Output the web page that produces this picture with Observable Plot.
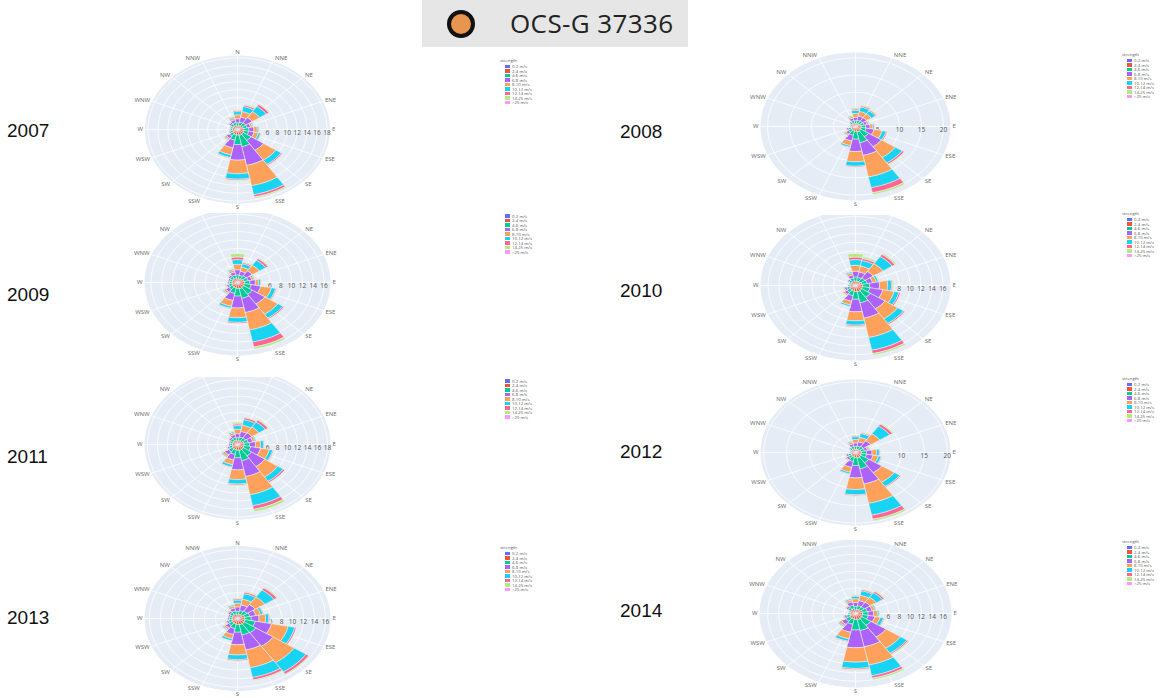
<!DOCTYPE html>
<html><head><meta charset="utf-8">
<script src="https://cdn.jsdelivr.net/npm/d3@7"></script>
<script src="https://cdn.jsdelivr.net/npm/@observablehq/plot@0.6"></script>
<style>
html,body{margin:0;padding:0;background:#fff;}
body{width:1172px;height:698px;position:relative;overflow:hidden;font-family:"Open Sans",sans-serif;}
.cell{position:absolute;overflow:hidden;}
.cell svg{position:absolute;left:0;top:0;overflow:hidden;background:transparent;}
.legend{position:absolute;font-family:"Open Sans",sans-serif;font-size:4.3px;color:#555;line-height:4.5px;white-space:nowrap;}
.legend .ttl{margin-bottom:2px;}
.legend .row{position:relative;height:4.5px;}
.legend .sw{position:absolute;top:0.5px;width:4.5px;height:3.4px;}
.legend .lb{position:absolute;}
.year{position:absolute;font-family:"Liberation Sans",Arial,sans-serif;font-size:19px;line-height:19px;color:#111;}
#hdr{position:absolute;left:422px;top:0;width:266px;height:47px;background:#e6e6e6;}
#hdr .dot{position:absolute;left:25px;top:10px;width:20px;height:20px;border:4px solid #111;border-radius:50%;background:#e8954f;}
#hdr .txt{position:absolute;left:88px;top:10px;font-size:26px;line-height:26px;letter-spacing:0.4px;color:#222;font-family:"Open Sans",sans-serif;}
</style></head><body>
<div id="hdr"><div class="dot"></div><div class="txt">OCS-G 37336</div></div>
<script>
// ---------- data ----------
const directions = ["N","NNE","NE","ENE","E","ESE","SE","SSE","S","SSW","SW","WSW","W","WNW","NW","NNW"];
const bins = ["0-2 m/s","2-4 m/s","4-6 m/s","6-8 m/s","8-10 m/s","10-12 m/s","12-14 m/s","14-25 m/s",">25 m/s"];
const binColors = ["#636efa","#EF553B","#00cc96","#ab63fa","#FFA15A","#19d3f3","#FF6692","#B6E880","#FF97FF"];
const years = [2007,2008,2009,2010,2011,2012,2013,2014];
const radialMax = [18.6,21.6,17.2,17.4,18.6,20.7,16.9,17.5];
const tickStep = [2,5,2,2,2,5,2,2];

// frequency (%) per direction (rows, N clockwise) and strength bin (columns)
const freq2007 = [
 [0.2,0.7,0.8,1.0,1.0,0.8,0.3,0.2,0],
 [0.2,0.8,0.9,1.3,1.4,1.3,0.4,0.2,0],
 [0.2,0.8,1.0,1.6,1.8,1.6,0.6,0.2,0],
 [0.3,0.9,0.8,0.7,0.4,0.2,0.1,0.1,0],
 [0.3,1.0,1.0,1.0,0.7,0.3,0.1,0.1,0],
 [0.3,1.0,1.0,1.1,0.9,0.45,0.15,0.1,0],
 [0.3,1.1,1.9,3.0,3.0,1.3,0.3,0.1,0],
 [0.3,1.2,2.9,4.8,5.2,2.3,0.6,0.3,0],
 [0.3,1.1,2.4,3.9,3.4,1.4,0.3,0.2,0],
 [0.3,1.0,1.4,2.0,1.8,0.7,0.2,0.1,0],
 [0.3,0.9,0.8,0.7,0.4,0.2,0.1,0.1,0],
 [0.3,0.7,0.5,0.3,0.1,0.05,0.03,0.02,0],
 [0.3,0.7,0.4,0.2,0.1,0.05,0.03,0.02,0],
 [0.3,0.7,0.4,0.2,0.1,0.05,0.03,0.02,0],
 [0.3,0.8,0.6,0.4,0.2,0.1,0.05,0.05,0],
 [0.3,0.8,0.7,0.7,0.5,0.3,0.1,0.1,0]
];
const freq2008 = [
 [0.2,0.7,0.8,1.0,1.1,0.9,0.4,0.4,0],
 [0.2,0.8,0.9,1.2,1.4,1.3,0.4,0.3,0],
 [0.2,0.8,0.9,1.2,1.3,1.1,0.3,0.2,0],
 [0.3,0.9,0.8,0.7,0.4,0.2,0.1,0.1,0],
 [0.3,1.0,1.0,1.0,0.7,0.3,0.1,0.1,0],
 [0.3,1.0,1.2,1.8,1.9,0.9,0.3,0.1,0],
 [0.3,1.1,2.2,3.5,3.8,1.9,0.5,0.2,0],
 [0.3,1.3,3.2,3.8,6.4,3.2,1.5,0.6,0.1],
 [0.3,1.1,2.3,3.6,3.0,1.3,0.3,0.1,0],
 [0.3,1.0,1.3,1.7,1.4,0.5,0.2,0.1,0],
 [0.3,0.9,0.8,0.7,0.4,0.2,0.1,0.1,0],
 [0.3,0.8,0.6,0.4,0.2,0.1,0.05,0.05,0],
 [0.3,0.6,0.3,0.2,0.05,0.03,0.01,0.01,0],
 [0.3,0.6,0.3,0.2,0.05,0.03,0.01,0.01,0],
 [0.3,0.7,0.5,0.3,0.1,0.05,0.03,0.02,0],
 [0.3,0.8,0.7,0.7,0.5,0.3,0.1,0.1,0]
];
const freq2009 = [
 [0.2,0.7,0.9,1.2,1.3,1.1,0.6,0.8,0],
 [0.2,0.7,0.8,1.0,1.0,0.8,0.3,0.2,0],
 [0.2,0.8,0.9,1.4,1.6,1.4,0.5,0.2,0],
 [0.3,0.9,0.8,0.7,0.4,0.2,0.1,0.1,0],
 [0.3,1.0,1.0,1.0,0.6,0.4,0.1,0.1,0],
 [0.3,1.0,1.3,1.8,2.0,0.8,0.2,0.1,0],
 [0.3,1.1,1.9,2.8,2.9,1.1,0.3,0.1,0],
 [0.3,1.2,2.3,3.4,4.2,2.9,1.2,0.5,0],
 [0.3,1.1,1.8,2.8,2.3,1.1,0.3,0.1,0],
 [0.3,1.0,1.3,1.7,1.4,0.5,0.2,0.1,0],
 [0.3,0.9,0.8,0.7,0.4,0.2,0.1,0.1,0],
 [0.3,0.8,0.6,0.4,0.2,0.1,0.05,0.05,0],
 [0.3,0.7,0.5,0.3,0.1,0.05,0.03,0.02,0],
 [0.3,0.7,0.5,0.3,0.1,0.05,0.03,0.02,0],
 [0.3,0.8,0.6,0.4,0.2,0.1,0.05,0.05,0],
 [0.3,0.8,0.7,0.7,0.5,0.3,0.1,0.1,0]
];
const freq2010 = [
 [0.2,0.8,1.0,1.3,1.4,1.3,0.6,0.8,0],
 [0.2,0.8,0.9,1.3,1.4,1.3,0.5,0.4,0],
 [0.2,0.8,1.1,1.8,2.2,2.0,0.6,0.3,0],
 [0.3,0.9,1.0,1.0,0.7,0.4,0.1,0.1,0],
 [0.3,1.0,1.3,1.8,1.5,0.7,0.2,0.2,0],
 [0.3,1.0,1.4,2.4,2.1,0.9,0.3,0.1,0],
 [0.3,1.1,1.9,3.2,2.8,1.3,0.3,0.1,0],
 [0.3,1.2,2.6,3.6,4.6,3.0,0.8,0.4,0],
 [0.3,1.1,1.8,2.9,2.1,1.0,0.3,0.2,0],
 [0.3,1.0,1.1,1.3,0.9,0.4,0.1,0.1,0],
 [0.3,0.9,0.7,0.6,0.3,0.1,0.05,0.05,0],
 [0.3,0.8,0.6,0.4,0.2,0.1,0.05,0.05,0],
 [0.3,0.6,0.3,0.2,0.05,0.03,0.01,0.01,0],
 [0.3,0.6,0.3,0.2,0.05,0.03,0.01,0.01,0],
 [0.3,0.7,0.5,0.3,0.1,0.05,0.03,0.02,0],
 [0.3,0.8,0.7,0.7,0.5,0.3,0.1,0.1,0]
];
const freq2011 = [
 [0.2,0.7,0.8,1.0,1.1,0.9,0.4,0.4,0],
 [0.2,0.8,0.9,1.4,1.6,1.4,0.5,0.2,0],
 [0.2,0.8,1.0,1.5,1.7,1.5,0.6,0.2,0],
 [0.3,1.0,0.9,0.9,0.5,0.25,0.1,0.05,0],
 [0.3,1.0,1.1,1.2,1.0,0.6,0.2,0.1,0],
 [0.3,1.0,1.4,2.0,1.8,0.7,0.2,0.1,0],
 [0.3,1.1,2.0,3.2,3.1,1.3,0.4,0.1,0],
 [0.3,1.2,2.6,4.0,4.6,2.8,0.9,0.6,0],
 [0.3,1.1,1.9,3.0,2.4,1.1,0.3,0.2,0],
 [0.3,1.0,1.2,1.4,1.2,0.6,0.2,0.1,0],
 [0.3,1.0,0.9,0.9,0.5,0.25,0.1,0.05,0],
 [0.3,0.8,0.6,0.4,0.2,0.1,0.05,0.05,0],
 [0.3,0.7,0.5,0.3,0.1,0.05,0.03,0.02,0],
 [0.3,0.7,0.5,0.3,0.1,0.05,0.03,0.02,0],
 [0.3,0.8,0.6,0.4,0.2,0.1,0.05,0.05,0],
 [0.3,0.8,0.7,0.7,0.5,0.3,0.1,0.1,0]
];
const freq2012 = [
 [0.2,0.7,0.8,1.0,1.0,0.8,0.3,0.2,0],
 [0.2,0.8,0.9,1.2,1.3,1.1,0.3,0.2,0],
 [0.2,0.8,1.1,1.9,2.4,2.6,0.7,0.3,0],
 [0.3,0.9,0.8,0.7,0.4,0.2,0.1,0.1,0],
 [0.3,1.0,1.1,1.2,1.0,0.6,0.2,0.1,0],
 [0.3,1.0,1.2,1.4,1.2,0.6,0.2,0.1,0],
 [0.3,1.1,2.1,3.4,3.3,1.4,0.3,0.1,0],
 [0.3,1.3,3.1,4.4,5.6,3.4,1.2,0.5,0],
 [0.3,1.1,2.3,3.5,3.3,1.5,0.3,0.2,0],
 [0.3,1.0,1.3,1.7,1.4,0.5,0.2,0.1,0],
 [0.3,0.9,0.7,0.6,0.3,0.1,0.05,0.05,0],
 [0.3,0.8,0.6,0.4,0.2,0.1,0.05,0.05,0],
 [0.3,0.6,0.3,0.2,0.05,0.03,0.01,0.01,0],
 [0.3,0.6,0.3,0.2,0.05,0.03,0.01,0.01,0],
 [0.3,0.7,0.5,0.3,0.1,0.05,0.03,0.02,0],
 [0.3,0.8,0.7,0.7,0.5,0.3,0.1,0.1,0]
];
const freq2013 = [
 [0.2,0.7,0.8,1.0,0.9,0.7,0.3,0.2,0],
 [0.2,0.8,0.9,1.3,1.4,1.3,0.4,0.2,0],
 [0.2,0.8,1.1,1.8,2.1,2.0,0.6,0.2,0],
 [0.3,1.0,1.0,1.1,0.9,0.45,0.15,0.1,0],
 [0.3,1.0,1.2,1.4,1.2,0.6,0.2,0.1,0],
 [0.3,1.1,1.9,3.0,3.1,1.2,0.3,0.1,0],
 [0.3,1.2,2.5,3.8,4.6,2.6,0.6,0.2,0],
 [0.3,1.2,2.4,3.6,4.2,2.3,0.6,0.2,0],
 [0.3,1.1,1.8,2.9,2.4,1.1,0.3,0.1,0],
 [0.3,1.0,1.1,1.4,1.0,0.5,0.1,0.1,0],
 [0.3,0.9,0.8,0.7,0.4,0.2,0.1,0.1,0],
 [0.3,0.8,0.6,0.4,0.2,0.1,0.05,0.05,0],
 [0.3,0.7,0.5,0.3,0.1,0.05,0.03,0.02,0],
 [0.3,0.7,0.5,0.3,0.1,0.05,0.03,0.02,0],
 [0.3,0.8,0.6,0.4,0.2,0.1,0.05,0.05,0],
 [0.3,0.8,0.7,0.7,0.5,0.3,0.1,0.1,0]
];
const freq2014 = [
 [0.2,0.7,0.8,0.9,0.9,0.6,0.2,0.2,0],
 [0.2,0.8,0.9,1.2,1.3,1.1,0.3,0.2,0],
 [0.2,0.8,0.9,1.3,1.4,1.3,0.4,0.2,0],
 [0.3,1.0,0.9,0.9,0.5,0.25,0.1,0.05,0],
 [0.3,1.0,1.0,1.0,0.7,0.3,0.1,0.1,0],
 [0.3,1.0,1.1,1.2,1.0,0.6,0.2,0.1,0],
 [0.3,1.1,2.0,3.3,3.2,1.4,0.3,0.2,0],
 [0.3,1.2,2.6,3.9,4.4,2.6,0.6,0.4,0],
 [0.3,1.1,2.5,4.2,3.4,1.5,0.3,0.2,0],
 [0.3,1.0,1.3,1.9,1.6,0.6,0.2,0.1,0],
 [0.3,1.0,0.9,0.9,0.5,0.25,0.1,0.05,0],
 [0.3,0.8,0.6,0.4,0.2,0.1,0.05,0.05,0],
 [0.3,0.6,0.3,0.2,0.05,0.03,0.01,0.01,0],
 [0.3,0.6,0.3,0.2,0.05,0.03,0.01,0.01,0],
 [0.3,0.8,0.6,0.4,0.2,0.1,0.05,0.05,0],
 [0.3,0.9,0.8,0.8,0.5,0.3,0.1,0.1,0]
];
const freqByYear = [freq2007,freq2008,freq2009,freq2010,freq2011,freq2012,freq2013,freq2014];

// ---------- layout (page pixels) ----------
const layout = [
 {cx:237,cy:129,hx:92.5,hy:74,top:47,bottom:210,legX:500,legY:60,legTitle:true,yearX:7,yearY:130},
 {cx:855,cy:126,hx:95,hy:74,top:50,bottom:207,legX:1122,legY:54,legTitle:true,yearX:620,yearY:131},
 {cx:237,cy:282,hx:93,hy:73,top:213,bottom:364,legX:500,legY:209.5,legTitle:false,yearX:7,yearY:294},
 {cx:855,cy:285,hx:95,hy:75,top:215,bottom:368,legX:1122,legY:213,legTitle:true,yearX:620,yearY:290},
 {cx:237,cy:444,hx:93,hy:75,top:377,bottom:527,legX:500,legY:374.5,legTitle:false,yearX:7,yearY:456},
 {cx:855,cy:452,hx:95,hy:73,top:376,bottom:532,legX:1122,legY:378,legTitle:true,yearX:620,yearY:451},
 {cx:237,cy:618,hx:93,hy:72.5,top:536,bottom:698,legX:500,legY:547,legTitle:true,yearX:7,yearY:617},
 {cx:855,cy:613,hx:96,hy:74,top:540,bottom:698,legX:1122,legY:541,legTitle:true,yearX:620,yearY:610}
];

// ---------- helpers ----------
const deg = Math.PI / 180;
const sector = 360 / directions.length;
const polar = (r, a) => ({x: r * Math.sin(a * deg), y: r * Math.cos(a * deg)});
function ring(r, key) {
  const pts = [];
  for (let a = 0; a <= 360; a += 3) pts.push({...polar(r, a), key});
  return pts;
}
function wedges(freq) {
  const pts = [];
  freq.forEach((row, i) => {
    let base = 0;
    const c = i * sector, half = sector / 2;
    row.forEach((v, j) => {
      if (!(v > 0)) return;
      const top = base + v;
      const key = i + "-" + j;
      const poly = [];
      const n = 6;
      for (let k = 0; k <= n; k++) poly.push([top, c - half + (2 * half * k) / n]);
      for (let k = n; k >= 0; k--) poly.push([base, c - half + (2 * half * k) / n]);
      poly.push(poly[0]);
      for (const [r, a] of poly) pts.push({...polar(r, a), key, bin: bins[j]});
      base = top;
    });
  });
  return pts;
}

years.forEach((yr, idx) => {
  const L = layout[idx];
  const R = radialMax[idx];
  const freq = freqByYear[idx];
  const ticks = d3.range(tickStep[idx], R + 1e-9, tickStep[idx]);
  const W = 240, H = L.bottom - L.top;
  const cxl = 120, cyl = L.cy - L.top;
  const cellLeft = L.cx - cxl;

  const spokes = directions.map((d, i) => {
    const p = polar(R, i * sector);
    return {x1: 0, y1: 0, x2: p.x, y2: p.y};
  });
  const tickLabels = ticks.map(t => ({...polar(t, 90), t}));
  // angular labels just outside the rim; keep only those inside the cell
  const pad = 3.2;
  const labels = [];
  directions.forEach((d, i) => {
    const a = i * sector;
    const s = Math.sin(a * deg), c = Math.cos(a * deg);
    let py = cyl - c * (L.hy + pad);
    if (py < 1 || py > H - 1) return;
    py = Math.min(Math.max(py, 3.5), H - 3.5);
    // convert the pixel row back into data units for the y scale
    const yv = (cyl - py) / L.hy * R;
    labels.push({x: R * s, y: yv, d, s});
  });
  const labR = labels.filter(l => l.s > 0.2);
  const labL = labels.filter(l => l.s < -0.2);
  const labM = labels.filter(l => Math.abs(l.s) <= 0.2);
  const labFont = {fontSize: 6, fill: "#6a6a6a", fontFamily: "Open Sans", lineAnchor: "middle"};

  const chart = Plot.plot({
    width: W, height: H, margin: 0,
    x: {domain: [-R, R], range: [cxl - L.hx, cxl + L.hx], axis: null},
    y: {domain: [-R, R], range: [cyl + L.hy, cyl - L.hy], axis: null},
    color: {domain: bins, range: binColors},
    style: {background: "transparent", overflow: "hidden", fontFamily: "Open Sans"},
    marks: [
      Plot.line(ring(R, "bg"), {x: "x", y: "y", fill: "#E5ECF6", stroke: "none"}),
      Plot.line(ticks.flatMap(t => ring(t, t)), {x: "x", y: "y", z: "key", stroke: "white", strokeWidth: 0.8}),
      Plot.link(spokes, {x1: "x1", y1: "y1", x2: "x2", y2: "y2", stroke: "white", strokeWidth: 0.8}),
      Plot.text(tickLabels, {x: "x", y: "y", text: d => String(d.t), dy: 3, fontSize: 6.5, fill: "#555", fontFamily: "Open Sans"}),
      Plot.line(wedges(freq), {x: "x", y: "y", z: "key", fill: "bin", stroke: "#eef2f8", strokeWidth: 0.55, strokeLinejoin: "miter", curve: "linear"}),
      Plot.text(labR, {x: "x", y: "y", text: "d", textAnchor: "start", dx: 2, ...labFont}),
      Plot.text(labL, {x: "x", y: "y", text: "d", textAnchor: "end", dx: -2, ...labFont}),
      Plot.text(labM, {x: "x", y: "y", text: "d", textAnchor: "middle", ...labFont})
    ]
  });

  const cell = document.createElement("div");
  cell.className = "cell";
  cell.style.left = cellLeft + "px";
  cell.style.top = L.top + "px";
  cell.style.width = W + "px";
  cell.style.height = H + "px";
  cell.appendChild(chart);
  document.body.appendChild(cell);

  // legend
  const leg = document.createElement("div");
  leg.className = "legend";
  leg.style.left = L.legX + "px";
  const firstRowY = L.legY + 6.6;
  leg.style.top = (L.legTitle ? L.legY - 2.25 : firstRowY - 2.25) + "px";
  if (L.legTitle) {
    const ttl = document.createElement("div");
    ttl.className = "ttl";
    ttl.textContent = "strength";
    leg.appendChild(ttl);
  }
  bins.forEach((b, j) => {
    const row = document.createElement("div");
    row.className = "row";
    const sw = document.createElement("span");
    sw.className = "sw";
    sw.style.left = "5px";
    sw.style.background = binColors[j];
    const lb = document.createElement("span");
    lb.className = "lb";
    lb.style.left = "12px";
    lb.textContent = b;
    row.appendChild(sw); row.appendChild(lb);
    leg.appendChild(row);
  });
  document.body.appendChild(leg);

  const y = document.createElement("div");
  y.className = "year";
  y.style.left = L.yearX + "px";
  y.style.top = (L.yearY - 9.3) + "px";
  y.textContent = String(yr);
  document.body.appendChild(y);
});
</script>
</body></html>
